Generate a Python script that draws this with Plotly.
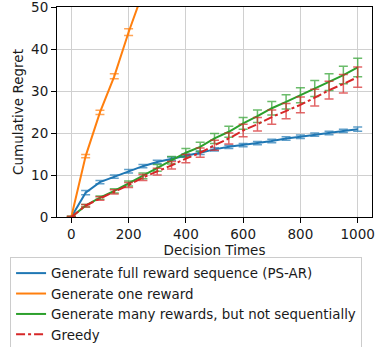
import plotly.graph_objects as go

times = [0, 50, 100, 150, 200, 250, 300, 350, 400, 450, 500, 550, 600, 650, 700, 750, 800, 850, 900, 950, 1000]

full_seq = [0, 5.8, 8.3, 9.6, 10.9, 12.1, 13.1, 13.9, 14.6, 15.3, 16.1, 16.7, 17.1, 17.6, 18.1, 18.7, 19.1, 19.6, 20.0, 20.5, 20.9]
full_seq_err = [0.2, 0.5, 0.4, 0.4, 0.4, 0.4, 0.4, 0.4, 0.4, 0.4, 0.4, 0.4, 0.4, 0.4, 0.4, 0.4, 0.4, 0.4, 0.4, 0.4, 0.5]

one_reward = [0, 14.5, 24.9, 33.5, 44.0, 53.5, 63.0, 72.5, 82.0, 91.5, 101.0, 110.5, 120.0, 129.5, 139.0, 148.5, 158.0, 167.5, 177.0, 186.5, 196.0]
one_reward_err = [0.2, 0.4, 0.5, 0.6, 0.8, 0.9, 1.0, 1.1, 1.2, 1.3, 1.4, 1.5, 1.6, 1.7, 1.8, 1.9, 2.0, 2.1, 2.2, 2.3, 2.4]

many_rewards = [0, 2.7, 4.6, 6.2, 8.0, 9.8, 11.7, 13.5, 15.3, 16.7, 18.7, 20.3, 22.3, 24.0, 25.9, 27.4, 29.0, 30.6, 32.1, 33.8, 35.6]
many_rewards_err = [0.1, 0.3, 0.4, 0.5, 0.6, 0.7, 0.8, 0.9, 1.0, 1.1, 1.2, 1.3, 1.4, 1.5, 1.6, 1.7, 1.8, 1.9, 2.0, 2.1, 2.2]

greedy = [0, 2.7, 4.4, 6.0, 7.6, 9.4, 10.8, 12.3, 13.9, 15.3, 17.1, 18.7, 20.6, 22.1, 23.8, 25.2, 26.7, 28.4, 30.2, 31.7, 33.3]
greedy_err = [0.1, 0.3, 0.4, 0.5, 0.6, 0.7, 0.8, 0.9, 1.0, 1.1, 1.2, 1.3, 1.5, 1.6, 1.7, 1.8, 1.9, 2.0, 2.1, 2.2, 2.4]

names = ["Generate full reward sequence (PS-AR)", "Generate one reward",
         "Generate many rewards, but not sequentially", "Greedy"]
colors = ["#1f77b4", "#ff7f0e", "#2ca02c", "#d62728"]
err_colors = ["rgba(31,119,180,0.7)", "rgba(255,127,14,0.7)", "rgba(44,160,44,0.7)", "rgba(214,39,40,0.7)"]
dashes = ["solid", "solid", "solid", "dashdot"]
series = [(full_seq, full_seq_err), (one_reward, one_reward_err),
          (many_rewards, many_rewards_err), (greedy, greedy_err)]

fig = go.Figure()
for (vals, errs), name, c, ec, d in zip(series, names, colors, err_colors, dashes):
    fig.add_trace(go.Scatter(
        x=times, y=vals, name=name, mode="lines",
        line=dict(color=c, width=2, dash=d),
        error_y=dict(type="data", array=errs, visible=True, color=ec, thickness=1.5, width=4.5),
    ))

fnt = dict(family="DejaVu Sans", size=13.5, color="#1a1a1a")
leg_fnt = dict(family="DejaVu Sans", size=13.4, color="#1a1a1a")
fig.update_layout(
    width=375, height=347,
    margin=dict(l=57, r=3, t=7, b=130, autoexpand=False),
    plot_bgcolor="white", paper_bgcolor="white",
    font=fnt,
    showlegend=True,
    legend=dict(x=-0.149, y=-0.19, xanchor="left", yanchor="top",
                bordercolor="#cccccc", borderwidth=1, bgcolor="white",
                font=leg_fnt, tracegroupgap=0, itemwidth=30),
)
fig.update_xaxes(range=[-50, 1050], tickvals=[0, 200, 400, 600, 800, 1000],
                 showgrid=True, gridcolor="#d0d0d0", gridwidth=1,
                 showline=True, linecolor="black", linewidth=1, mirror=True,
                 ticks="outside", ticklen=5, tickcolor="black", zeroline=False,
                 automargin=False, tickfont=fnt, ticklabeloverflow="allow",
                 title=dict(text="Decision Times", standoff=2, font=fnt))
fig.update_yaxes(range=[0, 50], tickvals=[0, 10, 20, 30, 40, 50],
                 showgrid=True, gridcolor="#d0d0d0", gridwidth=1,
                 showline=True, linecolor="black", linewidth=1, mirror=True,
                 ticks="outside", ticklen=5, tickcolor="black", zeroline=False,
                 automargin=False, tickfont=fnt, ticklabeloverflow="allow",
                 title=dict(text="Cumulative Regret", standoff=4, font=fnt))
fig.write_html("out.html", config={"displayModeBar": False},
               post_script="document.body.style.margin='0';")
